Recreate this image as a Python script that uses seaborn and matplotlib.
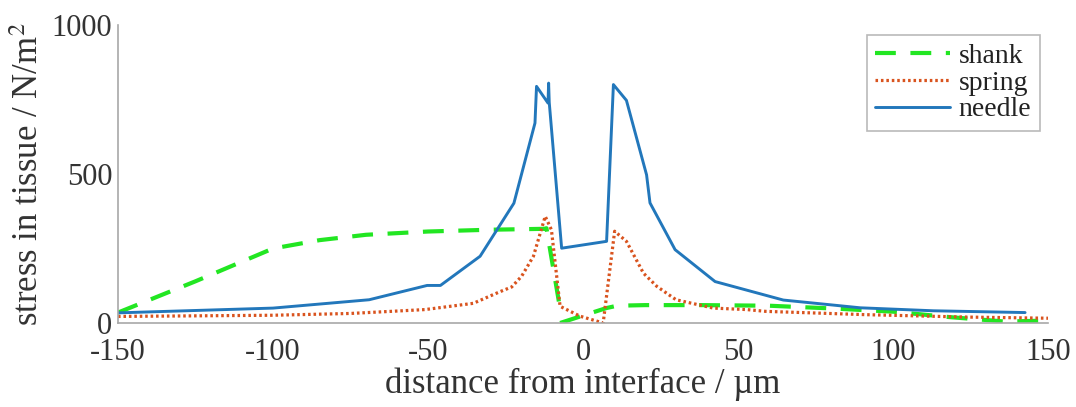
import numpy as np
import pandas as pd
import matplotlib
matplotlib.use("Agg")
import matplotlib.pyplot as plt
import seaborn as sns

# ---- data ----
shank_left_x = [-150, -125, -100, -85, -70, -50, -30, -12.5, -11.8, -7.4]
shank_left_y = [35, 140, 250, 278, 296, 307, 313, 316, 318, 48]
shank_right_x = [-7.4, 0, 7.5, 11, 20, 38, 60, 82, 100, 118, 136, 150]
shank_right_y = [0, 25, 50, 58, 60, 60, 58, 48, 38, 20, 5, 8]

spring_x = [-150, -100, -75, -51, -35.4, -26.8, -23, -19.8, -16, -12.2, -10.2,
            -7.4, -1, 6.5, 10.2, 14, 19.5, 23.8, 30, 42, 52.8, 59, 91, 123, 150]
spring_y = [22, 26, 32, 45, 66, 105, 121, 157, 224, 358, 313,
            56, 23, 0, 308, 274, 167, 123, 78, 50, 45, 39, 28, 20, 16]

needle_x = [-150, -100, -69, -50.3, -46, -33.2, -22.3, -15.5, -15, -11.3, -11.1,
            -10.9, -6.9, 7.6, 9.8, 14, 20.5, 21.6, 29.7, 42.6, 64.6, 89.4, 113, 142.6]
needle_y = [34, 50, 78, 126, 126, 224, 402, 671, 794, 738, 805,
            740, 251, 274, 800, 747, 497, 403, 246, 139, 77, 51, 41, 35]

x_ticks = [-150, -100, -50, 0, 50, 100, 150]
y_ticks = [0, 500, 1000]

# ---- style ----
sns.set_theme(style="white")
plt.rcParams['font.family'] = ['Liberation Serif', 'DejaVu Serif']
plt.rcParams['mathtext.fontset'] = 'stix'

fig = plt.figure(figsize=(10.76, 4.07), dpi=100)
ax = fig.add_axes([0.1097, 0.2064, 0.8643, 0.7322])

c_shank = '#22e622'
c_spring = '#d9531e'
c_needle = '#2277bb'

sns.lineplot(x=shank_left_x, y=shank_left_y, ax=ax, color=c_shank, lw=3.0,
             linestyle=(0, (5, 3.5)), label='shank', sort=False,
             estimator=None)
sns.lineplot(x=shank_right_x, y=shank_right_y, ax=ax, color=c_shank, lw=3.0,
             linestyle=(0, (5, 3.5)), label='_nolegend_', sort=False,
             estimator=None)
sns.lineplot(x=spring_x, y=spring_y, ax=ax, color=c_spring, lw=2.3,
             linestyle=(0, (0.8, 0.9)), label='spring', sort=False,
             estimator=None)
sns.lineplot(x=needle_x, y=needle_y, ax=ax, color=c_needle, lw=2.1,
             label='needle', sort=False, estimator=None)

ax.set_xlim(-150, 150)
ax.set_ylim(0, 1000)
ax.set_xticks(x_ticks)
ax.set_xticklabels([str(v) for v in x_ticks])
ax.set_yticks(y_ticks)
ax.set_yticklabels([str(v) for v in y_ticks])

for side in ['top', 'right']:
    ax.spines[side].set_visible(False)
for side in ['left', 'bottom']:
    ax.spines[side].set_color('#a8a8a8')
    ax.spines[side].set_linewidth(1.2)

ax.tick_params(axis='both', direction='in', length=6, width=1, color='#a8a8a8',
               labelsize=22, labelcolor='#333333', pad=4)
ax.tick_params(axis='x', pad=11)

ax.set_xlabel('distance from interface / \u00b5m', fontsize=25, color='#333333',
              labelpad=0)
ax.set_ylabel('stress in tissue / N/m$^2$', fontsize=25, color='#333333',
              labelpad=4)

leg = ax.legend(loc='upper right', bbox_to_anchor=(0.997, 0.985), fontsize=20,
                frameon=True, fancybox=False, edgecolor='#a8a8a8',
                handlelength=2.7, handletextpad=0.3, borderpad=0.3,
                labelspacing=0.05, borderaxespad=0.2)
leg.get_frame().set_linewidth(1.2)
for t in leg.get_texts():
    t.set_color('#222222')

fig.savefig('out.png', dpi=100, facecolor='white')
